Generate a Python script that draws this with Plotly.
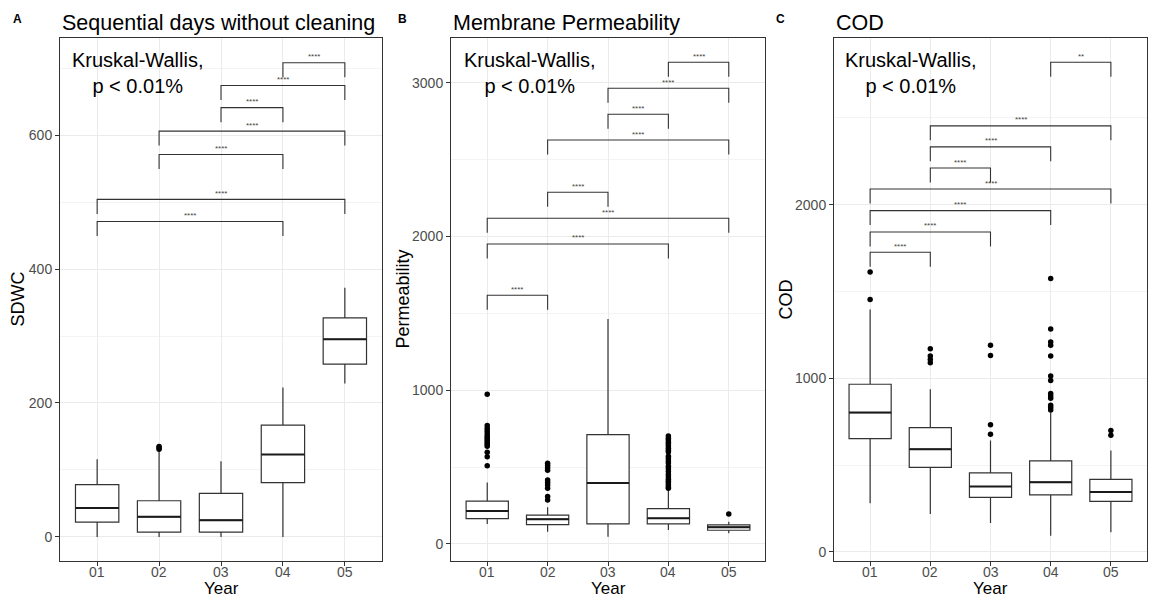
import plotly.graph_objects as go

W, H = 1153, 598
FONT = "Liberation Sans, Arial, sans-serif"

years = ["01", "02", "03", "04", "05"]
xpos = [1, 2, 3, 4, 5]

# Sequential days without cleaning (SDWC)
sdwc_q1 = [22, 7, 7, 81, 258]
sdwc_median = [43, 30, 25, 123, 295]
sdwc_q3 = [78, 54, 65, 167, 327]
sdwc_lower = [0, 0, 0, 0, 229]
sdwc_upper = [116, 128, 113, 223, 372]
sdwc_outliers = {2: [131, 133, 135]}
sdwc_pairs = [(4, 5, 708, "****"), (3, 5, 674, "****"), (3, 4, 641, "****"),
              (2, 5, 606, "****"), (2, 4, 571, "****"), (1, 5, 504, "****"),
              (1, 4, 471, "****")]

# Membrane permeability
perm_q1 = [165, 126, 130, 130, 89]
perm_median = [215, 161, 397, 167, 109]
perm_q3 = [278, 187, 711, 230, 124]
perm_lower = [130, 80, 47, 91, 70]
perm_upper = [399, 239, 1464, 362, 145]
perm_outliers = {
    1: [974, 770, 752, 737, 722, 706, 694, 683, 671, 660, 648, 636, 597, 568, 509],
    2: [525, 510, 495, 480, 416, 400, 384, 362, 308, 286],
    4: [703, 688, 676, 662, 651, 637, 622, 610, 598, 571, 556, 540, 527, 505,
        489, 471, 452, 437, 421, 408, 396, 383, 371, 362],
    5: [195],
}
perm_pairs = [(4, 5, 3134, "****"), (3, 5, 2965, "****"), (3, 4, 2796, "****"),
              (2, 5, 2628, "****"), (2, 3, 2288, "****"), (1, 5, 2119, "****"),
              (1, 4, 1952, "****"), (1, 2, 1618, "****")]

# COD
cod_q1 = [653, 487, 314, 329, 291]
cod_median = [803, 592, 377, 402, 345]
cod_q3 = [966, 716, 456, 525, 418]
cod_lower = [280, 218, 167, 94, 113]
cod_upper = [1397, 937, 642, 803, 584]
cod_outliers = {
    1: [1613, 1454],
    2: [1171, 1128, 1109, 1090],
    3: [1190, 1132, 732, 678],
    4: [1575, 1284, 1209, 1190, 1128, 1013, 987, 912, 898, 885, 845, 832, 818],
    5: [699, 672],
}
cod_pairs = [(4, 5, 2820, "**"), (2, 5, 2454, "****"), (2, 4, 2333, "****"),
             (2, 3, 2211, "****"), (1, 5, 2090, "****"), (1, 4, 1966, "****"),
             (1, 3, 1843, "****"), (1, 2, 1726, "****")]

# panel geometry in pixels: (left, right), shared top/bottom
top_px, bot_px = 38, 561
panels = [
    dict(key="", left=60, right=382, yrange=[-36, 745], dtick=200, minor=100,
         q1=sdwc_q1, med=sdwc_median, q3=sdwc_q3, lo=sdwc_lower, hi=sdwc_upper,
         out=sdwc_outliers, pairs=sdwc_pairs, title="Sequential days without cleaning",
         letter="A", letter_x=17, ylabel="SDWC", ylabel_x=17, kw_x=138),
    dict(key="2", left=451, right=765, yrange=[-111, 3292], dtick=1000, minor=500,
         q1=perm_q1, med=perm_median, q3=perm_q3, lo=perm_lower, hi=perm_upper,
         out=perm_outliers, pairs=perm_pairs, title="Membrane Permeability",
         letter="B", letter_x=402, ylabel="Permeability", ylabel_x=402, kw_x=530),
    dict(key="3", left=834, right=1147, yrange=[-52, 2960], dtick=1000, minor=500,
         q1=cod_q1, med=cod_median, q3=cod_q3, lo=cod_lower, hi=cod_upper,
         out=cod_outliers, pairs=cod_pairs, title="COD",
         letter="C", letter_x=780, ylabel="COD", ylabel_x=785, kw_x=911),
]

LINE = "#333333"
BOXW = 0.7

fig = go.Figure()
annotations = []
layout_axes = {}

for p in panels:
    xa, ya = "x" + p["key"], "y" + p["key"]
    # box bodies and whiskers
    fig.add_trace(go.Box(
        x=xpos, q1=p["q1"], median=p["med"], q3=p["q3"],
        lowerfence=p["lo"], upperfence=p["hi"],
        boxpoints=False, width=BOXW, whiskerwidth=0,
        fillcolor="white", line=dict(color=LINE, width=1.2),
        xaxis=xa, yaxis=ya, showlegend=False, hoverinfo="skip"))
    # thicker median bars
    mx, my = [], []
    for xi, m in zip(xpos, p["med"]):
        mx += [xi - BOXW / 2, xi + BOXW / 2, None]
        my += [m, m, None]
    fig.add_trace(go.Scatter(x=mx, y=my, mode="lines",
                             line=dict(color="#1a1a1a", width=2),
                             xaxis=xa, yaxis=ya, showlegend=False, hoverinfo="skip"))
    # outliers
    ox, oy = [], []
    for xi, vals in p["out"].items():
        ox += [xi] * len(vals)
        oy += vals
    fig.add_trace(go.Scatter(x=ox, y=oy, mode="markers",
                             marker=dict(color="black", size=5.5),
                             xaxis=xa, yaxis=ya, showlegend=False, hoverinfo="skip"))
    # significance brackets
    span = p["yrange"][1] - p["yrange"][0]
    tip = span * 14.5 / (bot_px - top_px)
    bx, by = [], []
    for a, b, yv, lab in p["pairs"]:
        bx += [a, a, b, b, None]
        by += [yv - tip, yv, yv, yv - tip, None]
        annotations.append(dict(x=(a + b) / 2, y=yv, xref=xa, yref=ya, text=lab,
                                showarrow=False, yshift=6, yanchor="middle",
                                font=dict(family=FONT, size=8, color="#444444")))
    fig.add_trace(go.Scatter(x=bx, y=by, mode="lines",
                             line=dict(color=LINE, width=1.1),
                             xaxis=xa, yaxis=ya, showlegend=False, hoverinfo="skip"))

    xdom = [p["left"] / W, p["right"] / W]
    ydom = [1 - bot_px / H, 1 - top_px / H]
    layout_axes["xaxis" + p["key"]] = dict(
        domain=xdom, anchor=ya, range=[0.4, 5.6], tickvals=xpos,
        showticklabels=False,
        showgrid=True, gridcolor="#EBEBEB", gridwidth=1, zeroline=False,
        showline=True, linecolor=LINE, linewidth=1, mirror=True,
        ticks="outside", ticklen=4, tickcolor=LINE)
    layout_axes["yaxis" + p["key"]] = dict(
        domain=ydom, anchor=xa, range=p["yrange"], dtick=p["dtick"], tick0=0,
        showgrid=True, gridcolor="#EBEBEB", gridwidth=1, zeroline=False,
        minor=dict(dtick=p["minor"], tick0=0, showgrid=True, gridcolor="#F4F4F4",
                   gridwidth=1, ticks=""),
        showline=True, linecolor=LINE, linewidth=1, mirror=True,
        ticks="outside", ticklen=4, tickcolor=LINE,
        tickfont=dict(family=FONT, size=14, color="#4D4D4D"))

    # year tick labels just under the x axis
    for xi, lab in zip(xpos, years):
        annotations.append(dict(x=xi, xref=xa, y=1 - 572 / H, yref="paper",
                                text=lab, showarrow=False, xanchor="center",
                                yanchor="middle",
                                font=dict(family=FONT, size=14, color="#4D4D4D")))

    cx = (p["left"] + p["right"]) / 2 / W
    annotations += [
        dict(x=p["left"] / W, y=1 - 23 / H, xref="paper", yref="paper",
             text=p["title"], showarrow=False, xanchor="left", yanchor="middle",
             font=dict(family=FONT, size=21.5, color="black")),
        dict(x=p["letter_x"] / W, y=1 - 19 / H, xref="paper", yref="paper",
             text="<b>" + p["letter"] + "</b>", showarrow=False,
             xanchor="center", yanchor="middle",
             font=dict(family=FONT, size=12, color="black")),
        dict(x=p["kw_x"] / W, y=1 - 73 / H, xref="paper", yref="paper",
             text="Kruskal-Wallis,<br>p < 0.01%", showarrow=False,
             xanchor="center", yanchor="middle", align="center",
             font=dict(family=FONT, size=20, color="black")),
        dict(x=cx, y=0, xref="paper", yref="paper", text="Year",
             showarrow=False, xanchor="center", yanchor="bottom", yshift=-2,
             font=dict(family=FONT, size=17, color="black")),
        dict(x=p["ylabel_x"] / W, y=1 - ((top_px + bot_px) / 2) / H,
             xref="paper", yref="paper", text=p["ylabel"], textangle=-90,
             showarrow=False, xanchor="center", yanchor="middle",
             font=dict(family=FONT, size=18, color="black")),
    ]

fig.update_layout(
    width=W, height=H, margin=dict(l=0, r=0, t=0, b=0),
    paper_bgcolor="white", plot_bgcolor="white",
    annotations=annotations, **layout_axes)

fig.write_html("out.html")
